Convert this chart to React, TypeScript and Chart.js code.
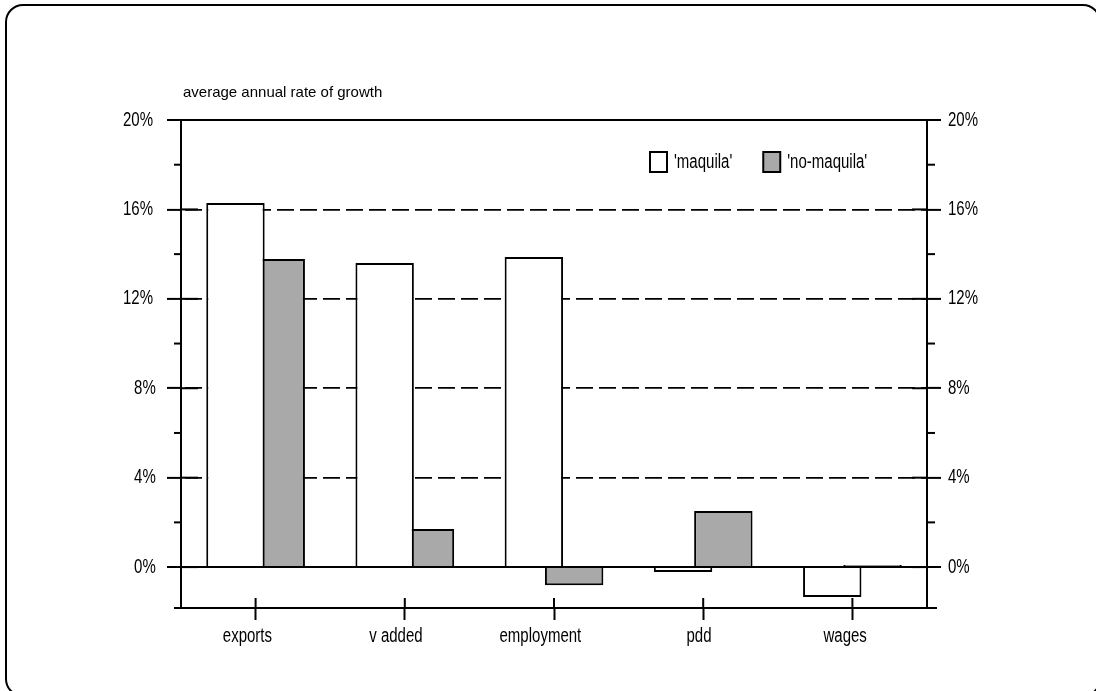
import { useEffect, useRef } from 'react';
import { Chart, registerables } from 'chart.js';

Chart.register(...registerables);

const categories = ['exports', 'v added', 'employment', 'pdd', 'wages'];
const maquila = [16.29, 13.6, 13.87, -0.22, -1.34];
const noMaquila = [13.78, 1.7, -0.81, 2.51, 0.09];
const seriesLabels = ["'maquila'", "'no-maquila'"];
const seriesColors = ['#ffffff', '#a9a9a9'];
const yTickValues = [0, 2, 4, 6, 8, 10, 12, 14, 16, 18, 20];
const yMin = -1.83;
const yMax = 20;
const titleText = 'average annual rate of growth';

const FONT = '"Liberation Sans", Arial, sans-serif';
const LABEL_SIZE = 20;
const SQUEEZE = 0.75;

const isMajor = (v: number) => Math.abs(v % 4) < 1e-9;
const fmt = (v: number) => `${v}%`;

function squeezedText(ctx: CanvasRenderingContext2D, text: string, x: number, yMid: number, size: number, sx: number) {
  ctx.save();
  ctx.font = `${size}px ${FONT}`;
  ctx.letterSpacing = '0px';
  ctx.textAlign = 'left';
  ctx.textBaseline = 'middle';
  ctx.fillStyle = '#000';
  ctx.translate(x, yMid);
  ctx.scale(sx, 1);
  ctx.fillText(text, 0, 0);
  ctx.restore();
}

function naturalWidth(ctx: CanvasRenderingContext2D, text: string, size: number) {
  ctx.save();
  ctx.font = `${size}px ${FONT}`;
  ctx.letterSpacing = '0px';
  const w = ctx.measureText(text).width;
  ctx.restore();
  return w;
}

const decor = {
  id: 'decor',
  afterDatasetsDraw(chart: any) {
    const { ctx, chartArea: ca, scales } = chart;
    const y = scales.y;
    const line = (x1: number, y1: number, x2: number, y2: number) => {
      ctx.beginPath();
      ctx.moveTo(x1, y1);
      ctx.lineTo(x2, y2);
      ctx.stroke();
    };
    ctx.save();
    ctx.setLineDash([]);
    ctx.strokeStyle = '#000';
    ctx.lineWidth = 2;
    const y0 = y.getPixelForValue(0);
    line(ca.left, y0, ca.right, y0);
    yTickValues.forEach((v) => {
      const py = y.getPixelForValue(v);
      if (isMajor(v)) {
        line(ca.left, py, ca.left + 17, py);
        line(ca.right - 15, py, ca.right, py);
      } else {
        line(ca.left - 7, py, ca.left, py);
        line(ca.right, py, ca.right + 8, py);
      }
    });
    line(ca.left - 7, ca.bottom, ca.left, ca.bottom);
    line(ca.right, ca.bottom, ca.right + 10, ca.bottom);
    const xs = scales.x;
    xs.ticks.forEach((_t: any, i: number) => {
      const px = xs.getPixelForTick(i);
      line(px, ca.bottom - 10, px, ca.bottom);
    });
    ctx.restore();
  },
  afterDraw(chart: any) {
    const { ctx, chartArea: ca, scales } = chart;
    // y tick labels (left: right-aligned on natural width, right: left-aligned)
    yTickValues.filter(isMajor).forEach((v) => {
      const py = scales.y.getPixelForValue(v);
      const t = fmt(v);
      const w0 = naturalWidth(ctx, t, LABEL_SIZE);
      squeezedText(ctx, t, ca.left - 14 - 4 - w0, py, LABEL_SIZE, SQUEEZE);
      squeezedText(ctx, t, ca.right + 14 + 7, py, LABEL_SIZE, SQUEEZE);
    });
    // x tick labels
    const xs = scales.x;
    (chart.data.labels as string[]).forEach((lab, i) => {
      const px = xs.getPixelForTick(i);
      const w0 = naturalWidth(ctx, lab, LABEL_SIZE);
      squeezedText(ctx, lab, px - w0 / 2, ca.bottom + 28, LABEL_SIZE, SQUEEZE);
    });
    // title
    squeezedText(ctx, titleText, ca.left + 2, ca.top - 27, 15, 1);
    // legend
    let x = ca.left + 469;
    const boxTop = ca.top + 32;
    chart.data.datasets.forEach((ds: any) => {
      ctx.save();
      ctx.fillStyle = ds.backgroundColor;
      ctx.fillRect(x, boxTop, 17, 20);
      ctx.strokeStyle = '#000';
      ctx.lineWidth = 2;
      ctx.strokeRect(x, boxTop, 17, 20);
      ctx.restore();
      squeezedText(ctx, ds.label, x + 24, boxTop + 10, LABEL_SIZE, SQUEEZE);
      const w = naturalWidth(ctx, ds.label, LABEL_SIZE) * SQUEEZE;
      x = x + 24 + w + 31;
    });
  },
};

function yAxis(position: 'left' | 'right', width: number) {
  return {
    position,
    min: yMin,
    max: yMax,
    afterBuildTicks: (s: any) => {
      s.ticks = yTickValues.map((v) => ({ value: v }));
    },
    afterFit: (s: any) => {
      s.width = width;
    },
    ticks: {
      display: false,
      callback: (v: any) => (isMajor(Number(v)) ? fmt(Number(v)) : ''),
    },
    grid: {
      drawOnChartArea: position === 'left',
      color: (c: any) => (c.tick && isMajor(c.tick.value) ? '#000' : 'rgba(0,0,0,0)'),
      lineWidth: (c: any) => (c.tick && (c.tick.value === 0 || c.tick.value === 20) ? 2 : 1.8),
      tickColor: (c: any) => (c.tick && isMajor(c.tick.value) ? '#000' : 'rgba(0,0,0,0)'),
      tickWidth: 2,
      tickLength: 14,
    },
    border: {
      display: true,
      color: '#000',
      width: 2,
      dash: (c: any) => (c.tick && c.tick.value !== 0 && c.tick.value !== 20 ? [17, 6] : []),
      dashOffset: -3,
    },
  };
}

export default function App() {
  const ref = useRef<HTMLCanvasElement | null>(null);
  useEffect(() => {
    if (!ref.current) return;
    const chart = new Chart(ref.current, {
      type: 'bar',
      data: {
        labels: categories,
        datasets: [
          {
            label: seriesLabels[0],
            data: maquila,
            backgroundColor: seriesColors[0],
            borderColor: '#000',
            borderWidth: 2,
            categoryPercentage: 0.54,
            barPercentage: 1.45,
          },
          {
            label: seriesLabels[1],
            data: noMaquila,
            backgroundColor: seriesColors[1],
            borderColor: '#000',
            borderWidth: 2,
            categoryPercentage: 0.54,
            barPercentage: 1.45,
          },
        ],
      },
      options: {
        animation: false,
        responsive: false,
        events: [],
        layout: { padding: { top: 120, left: 0, right: 0, bottom: 0 } },
        plugins: {
          legend: { display: false },
          title: { display: false },
          tooltip: { enabled: false },
        },
        scales: {
          x: {
            afterFit: (s: any) => {
              s.height = 83;
            },
            grid: {
              drawOnChartArea: false,
              offset: false,
              tickLength: 12,
              tickWidth: 2,
              tickColor: '#000',
            },
            border: { display: true, color: '#000', width: 2 },
            ticks: { display: false, autoSkip: false },
          },
          y: yAxis('left', 181),
          y2: yAxis('right', 1096 - 927),
        } as any,
      },
      plugins: [decor],
    });
    return () => chart.destroy();
  }, []);

  return (
    <div
      style={{
        position: 'fixed',
        left: 0,
        top: 0,
        width: 1096,
        height: 691,
        overflow: 'hidden',
        background: '#fff',
      }}
    >
      <div
        style={{
          position: 'absolute',
          left: 5,
          top: 4,
          width: 1092,
          height: 689,
          border: '2px solid #000',
          borderRadius: 18,
        }}
      />
      <canvas
        ref={ref}
        width={1096}
        height={691}
        style={{ position: 'absolute', left: 0, top: 0, width: 1096, height: 691 }}
      />
    </div>
  );
}
